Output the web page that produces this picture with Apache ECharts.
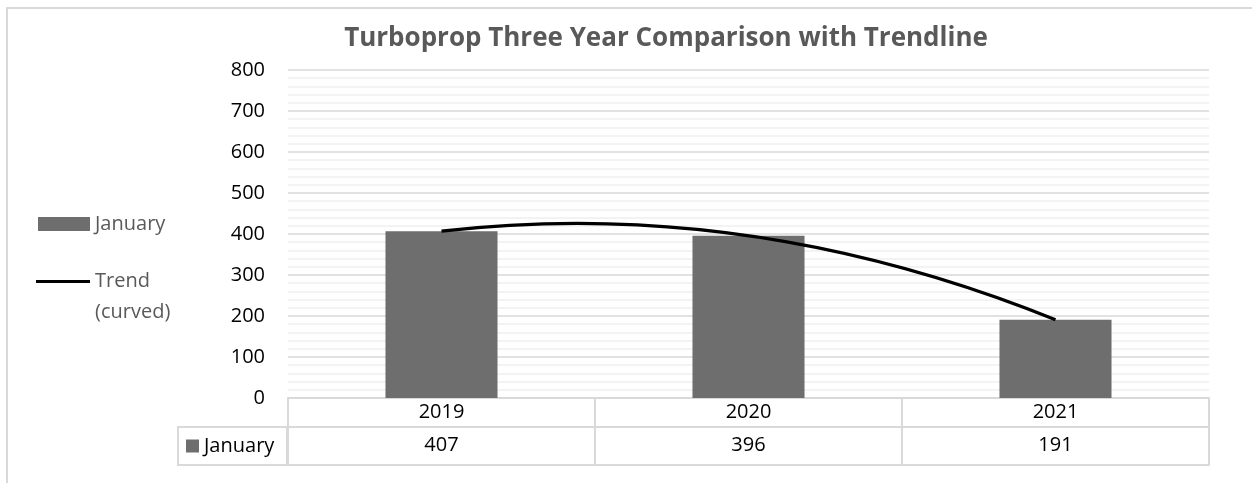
<!DOCTYPE html>
<html>
<head>
<meta charset="utf-8">
<style>html,body{margin:0;padding:0;background:#fff}#c{width:1252px;height:483px}</style>
<script src="https://cdn.jsdelivr.net/npm/echarts@6/dist/echarts.min.js"></script>
</head>
<body>
<div id="c"></div>
<script>
const titleText = 'Turboprop Three Year Comparison with Trendline';
const years = ['2019', '2020', '2021'];
const january = [407, 396, 191];
const yTicks = { min: 0, max: 800, interval: 100 };
const seriesName = 'January';
const trendName = 'Trend (curved)';

const FONT = 'Open Sans';
const chart = echarts.init(document.getElementById('c'), null, { renderer: 'canvas' });

const option = {
  animation: false,
  backgroundColor: '#fff',
  title: {
    text: titleText,
    left: 661, top: 19, textAlign: 'center',
    textStyle: { fontFamily: FONT, fontWeight: 'bold', fontSize: 26, color: '#595959', lineHeight: 30 }
  },
  grid: { left: 288, right: 43, top: 70, bottom: 85, containLabel: false },
  legend: [
    {
      data: [{ name: seriesName, icon: 'rect' }],
      left: 38, top: 212, padding: 0, itemWidth: 52, itemHeight: 14,
      selectedMode: false,
      textStyle: { fontFamily: FONT, fontSize: 20, color: '#595959', lineHeight: 24 }
    },
    {
      data: [{ name: trendName, icon: 'rect' }],
      left: 36, top: 235, padding: 0, itemWidth: 54, itemHeight: 3,
      selectedMode: false,
      formatter: () => ' \nTrend\n(curved)',
      textStyle: { fontFamily: FONT, fontSize: 20, color: '#595959', lineHeight: 31 }
    },
    {
      data: [{ name: seriesName, icon: 'rect' }],
      left: 186, top: 434, padding: 0, itemWidth: 13, itemHeight: 13,
      selectedMode: false,
      textStyle: { fontFamily: FONT, fontSize: 20, color: '#000', lineHeight: 24 }
    }
  ],
  xAxis: [
    {
      type: 'category', data: years, position: 'bottom',
      boundaryGap: true,
      axisLine: { show: true, lineStyle: { color: '#d9d9d9', width: 2 } },
      axisTick: { show: true, alignWithLabel: false, length: 67, lineStyle: { color: '#d9d9d9', width: 2 } },
      axisLabel: { fontFamily: FONT, fontSize: 20, color: '#000', margin: 4, lineHeight: 20 },
      splitLine: { show: false }
    },
    {
      type: 'category', data: january.map(String), position: 'bottom', offset: 29,
      boundaryGap: true,
      axisLine: { show: true, lineStyle: { color: '#d9d9d9', width: 2 } },
      axisTick: { show: false },
      axisLabel: { fontFamily: FONT, fontSize: 20, color: '#000', margin: 8, lineHeight: 20 },
      splitLine: { show: false }
    },
    {
      type: 'category', data: years, position: 'bottom', offset: 67,
      axisLine: { show: true, lineStyle: { color: '#d9d9d9', width: 2 } },
      axisTick: { show: false }, axisLabel: { show: false }, splitLine: { show: false }
    }
  ],
  yAxis: {
    type: 'value', min: yTicks.min, max: yTicks.max, interval: yTicks.interval,
    axisLine: { show: false }, axisTick: { show: false },
    axisLabel: { fontFamily: FONT, fontSize: 20, color: '#000', margin: 23 },
    splitLine: { show: true, lineStyle: { color: '#d9d9d9', width: 1.5 } },
    minorTick: { show: false, splitNumber: 5 },
    minorSplitLine: { show: true, lineStyle: { color: '#efefef', width: 1.5 } }
  },
  series: [
    {
      name: seriesName, type: 'bar', data: january, xAxisIndex: 0,
      barWidth: '36.5%',
      itemStyle: { color: '#6e6e6e' },
      z: 2
    },
    {
      name: trendName, type: 'custom', xAxisIndex: 0,
      data: january.map((v, i) => [i, v]),
      itemStyle: { color: '#000' },
      z: 5,
      renderItem: function (params, api) {
        if (params.dataIndex !== 0) return null;
        const p0 = api.coord([0, january[0]]);
        const p1 = api.coord([1, january[1]]);
        const p2 = api.coord([2, january[2]]);
        const cx = 2 * p1[0] - (p0[0] + p2[0]) / 2;
        const cy = 2 * p1[1] - (p0[1] + p2[1]) / 2;
        return {
          type: 'path',
          shape: { pathData: `M${p0[0]} ${p0[1]} Q${cx} ${cy} ${p2[0]} ${p2[1]}` },
          style: { stroke: '#000', lineWidth: 3.2, fill: null }
        };
      }
    }
  ],
  graphic: [
    { type: 'rect', shape: { x: 7, y: 8, width: 1300, height: 600 }, style: { stroke: '#d9d9d9', lineWidth: 2, fill: null }, silent: true },
    { type: 'rect', shape: { x: 178, y: 427, width: 109, height: 38 }, style: { stroke: '#d9d9d9', lineWidth: 2, fill: null }, silent: true }
  ]
};
chart.setOption(option);
</script>
</body>
</html>
